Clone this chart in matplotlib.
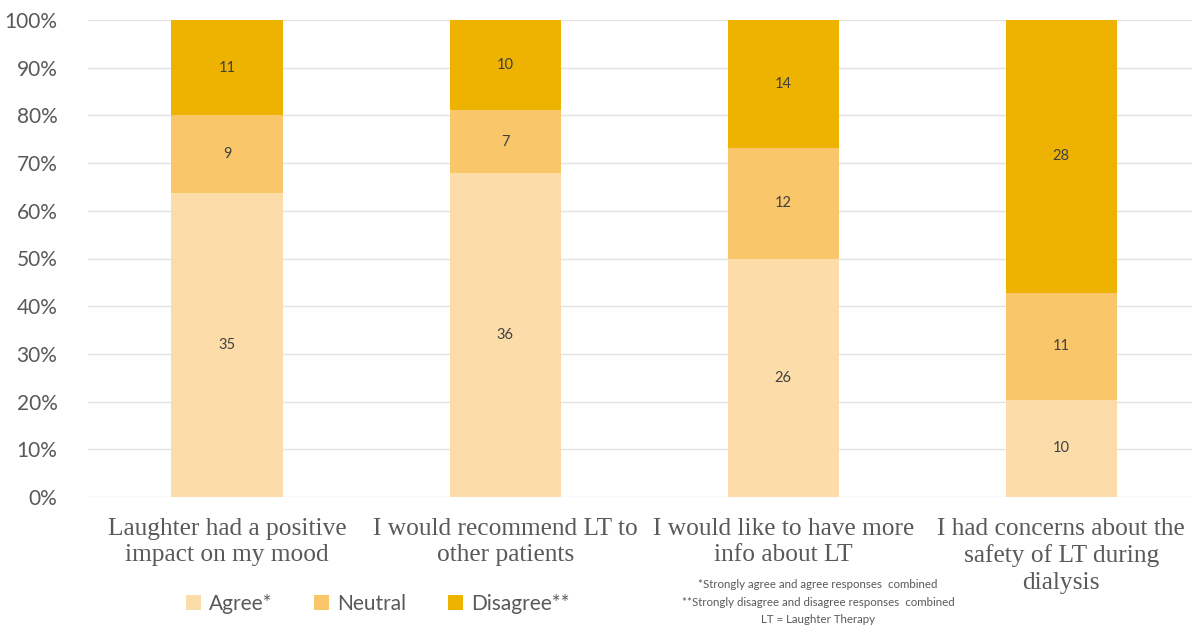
import matplotlib
matplotlib.use('Agg')

import matplotlib.pyplot as plt
import numpy as np
from matplotlib.ticker import PercentFormatter

# Survey responses (counts), shown as 100% stacked bars
categories = [
    'Laughter had a positive\nimpact on my mood',
    'I would recommend LT to\nother patients',
    'I would like to have more\ninfo about LT',
    'I had concerns about the\nsafety of LT during\ndialysis',
]
agree = [35, 36, 26, 10]
neutral = [9, 7, 12, 11]
disagree = [11, 10, 14, 28]

series_names = ['Agree*', 'Neutral', 'Disagree**']
series_colors = ['#FCDDAA', '#FAC66A', '#EEB300']
footnote = ('*Strongly agree and agree responses  combined\n'
            '**Strongly disagree and disagree responses  combined\n'
            'LT = Laughter Therapy')

counts = np.array([agree, neutral, disagree], dtype=float)
shares = counts / counts.sum(axis=0)

fig = plt.figure(figsize=(11.93, 6.32), dpi=100)
ax = fig.add_axes([88 / 1193, 1 - 497 / 632, (1192 - 88) / 1193, (497 - 20) / 632])

x = np.arange(len(categories))
bottom = np.zeros(len(categories))
handles = []
for name, color, share, cnt in zip(series_names, series_colors, shares, counts):
    bars = ax.bar(x, share, 0.4, bottom=bottom, color=color, label=name, zorder=2)
    handles.append(bars)
    for xi, b, s, c in zip(x, bottom, share, cnt):
        ax.text(xi, b + s / 2, f'{int(c)}', ha='center', va='center',
                fontsize=10.5, color='#404040', family='Lato')
    bottom += share

ax.set_xlim(-0.5, 3.47)
ax.set_ylim(0, 1)
ax.set_yticks(np.linspace(0, 1, 11))
ax.yaxis.set_major_formatter(PercentFormatter(1.0, decimals=0))
ax.grid(axis='y', color='#E3E3E3', linewidth=1, zorder=0)
for sp in ax.spines.values():
    sp.set_visible(False)
ax.tick_params(axis='both', length=0)
ax.tick_params(axis='y', labelsize=15, labelcolor='#595959', pad=22)
for lbl in ax.get_yticklabels():
    lbl.set_family('Lato')

ax.set_xticks(x)
ax.set_xticklabels(categories, fontsize=18.3, color='#595959',
                   family='Liberation Serif', linespacing=1.25)
ax.tick_params(axis='x', pad=15)

fig.legend(handles=handles, loc='center', bbox_to_anchor=(378 / 1193, 1 - 604 / 632),
           ncol=3, frameon=False, prop={'family': 'Lato', 'size': 15},
           labelcolor='#595959', handlelength=0.7, handleheight=0.7,
           columnspacing=2.0, handletextpad=0.4)

fig.text(818 / 1193, 1 - 602 / 632, footnote, ha='center', va='center',
         fontsize=8.3, color='#595959', family='Lato', linespacing=1.75)

fig.savefig('out.png', dpi=100, facecolor='white')
